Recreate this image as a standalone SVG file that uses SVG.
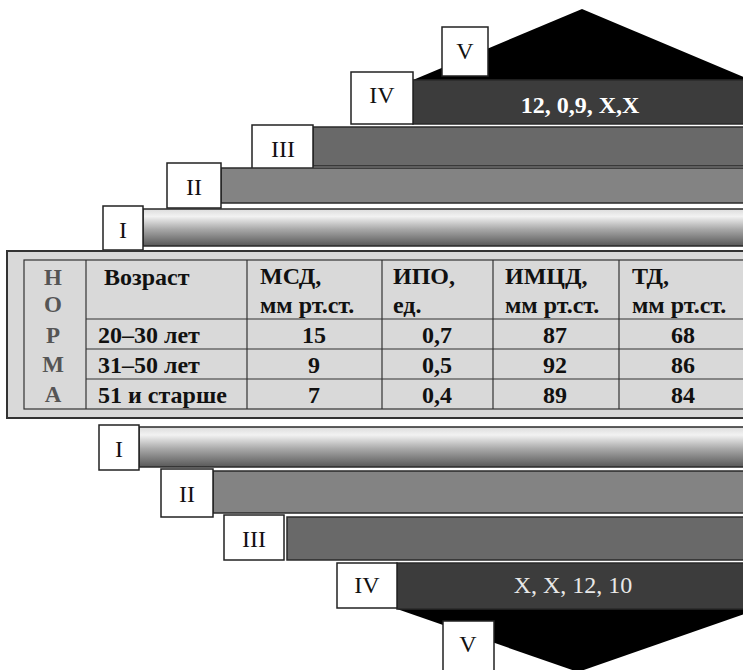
<svg xmlns="http://www.w3.org/2000/svg" width="743" height="670" viewBox="0 0 743 670">
<style>
.bar{stroke:#2a2a2a;stroke-width:1.5}
.box{fill:#fff;stroke:#222;stroke-width:1.5}
.rn{font-family:"Liberation Serif",serif;font-size:24px;fill:#111;text-anchor:middle}
.tb{font-family:"Liberation Serif",serif;font-weight:bold;fill:#111}
.h1{font-size:24px}
.h2{font-size:24px}
.v{font-size:24px;text-anchor:middle}
.nm{font-family:"Liberation Serif",serif;font-weight:bold;font-size:23px;fill:#555;text-anchor:middle}
.grid{stroke:#333;stroke-width:1.2;fill:none}
</style>
<defs>
<linearGradient id="g1" x1="0" y1="0" x2="0" y2="1">
<stop offset="0" stop-color="#dcdcdc"/>
<stop offset="0.2" stop-color="#f2f2f2"/>
<stop offset="0.55" stop-color="#a8a8a8"/>
<stop offset="1" stop-color="#585858"/>
</linearGradient>
</defs>
<rect width="743" height="670" fill="#fff"/>

<g id="top-V">
<polygon points="413,80 582,9 751,80" fill="#000"/>
<rect class="box" x="442" y="27" width="46" height="49"/>
<text class="rn" x="465" y="59">V</text>
</g>
<g id="top-IV">
<rect class="bar" x="413" y="80" width="340" height="44" fill="#3c3c3c"/>
<rect class="box" x="351" y="72" width="62" height="52"/>
<text class="rn" x="382" y="103">IV</text>
<text x="580" y="113" font-family="Liberation Serif,serif" font-weight="bold" font-size="24" fill="#fff" text-anchor="middle">12, 0,9, X,X</text>
</g>
<g id="top-III">
<rect class="bar" x="313" y="127" width="440" height="39" fill="#696969"/>
<rect class="box" x="252" y="125" width="61" height="47"/>
<text class="rn" x="283" y="157">III</text>
</g>
<g id="top-II">
<rect class="bar" x="221" y="168" width="530" height="35" fill="#838383"/>
<rect class="box" x="167" y="163" width="54" height="45"/>
<text class="rn" x="194" y="195">II</text>
</g>
<g id="top-I">
<rect class="bar" x="143" y="209" width="610" height="37" fill="url(#g1)"/>
<rect class="box" x="103" y="206" width="40" height="44"/>
<text class="rn" x="123" y="238">I</text>
</g>

<g id="norma-table">
<rect x="7" y="251" width="750" height="167" fill="#d9d9d9" stroke="#333" stroke-width="2"/>
<rect class="grid" x="24" y="260" width="730" height="149"/>
<line class="grid" x1="86" y1="260" x2="86" y2="409"/>
<line class="grid" x1="247" y1="260" x2="247" y2="409"/>
<line class="grid" x1="382" y1="260" x2="382" y2="409"/>
<line class="grid" x1="493" y1="260" x2="493" y2="409"/>
<line class="grid" x1="619" y1="260" x2="619" y2="409"/>
<line class="grid" x1="86" y1="319" x2="754" y2="319"/>
<line class="grid" x1="86" y1="349" x2="754" y2="349"/>
<line class="grid" x1="86" y1="379" x2="754" y2="379"/>
<text class="nm" x="53" y="285">Н</text>
<text class="nm" x="53" y="312">О</text>
<text class="nm" x="53" y="343">Р</text>
<text class="nm" x="53" y="372">М</text>
<text class="nm" x="53" y="402">А</text>
<text class="tb h1" x="104" y="285">Возраст</text>
<text class="tb h1" x="260" y="284">МСД,</text>
<text class="tb h2" x="260" y="313">мм рт.ст.</text>
<text class="tb h1" x="393" y="284">ИПО,</text>
<text class="tb h2" x="393" y="313">ед.</text>
<text class="tb h1" x="505" y="284">ИМЦД,</text>
<text class="tb h2" x="505" y="313">мм рт.ст.</text>
<text class="tb h1" x="632" y="284">ТД,</text>
<text class="tb h2" x="632" y="313">мм рт.ст.</text>
<text class="tb h1" x="98" y="343">20–30 лет</text>
<text class="tb h1" x="98" y="373">31–50 лет</text>
<text class="tb h1" x="98" y="403">51 и старше</text>
<text class="tb v" x="314" y="343">15</text>
<text class="tb v" x="314" y="373">9</text>
<text class="tb v" x="314" y="403">7</text>
<text class="tb v" x="437" y="343">0,7</text>
<text class="tb v" x="437" y="373">0,5</text>
<text class="tb v" x="437" y="403">0,4</text>
<text class="tb v" x="555" y="343">87</text>
<text class="tb v" x="555" y="373">92</text>
<text class="tb v" x="555" y="403">89</text>
<text class="tb v" x="683" y="343">68</text>
<text class="tb v" x="683" y="373">86</text>
<text class="tb v" x="683" y="403">84</text>
</g>

<g id="bottom-I">
<rect class="bar" x="139" y="427" width="614" height="40" fill="url(#g1)"/>
<rect class="box" x="99" y="425" width="40" height="45"/>
<text class="rn" x="119" y="457">I</text>
</g>
<g id="bottom-II">
<rect class="bar" x="213" y="471" width="540" height="42" fill="#838383"/>
<rect class="box" x="161" y="469" width="52" height="48"/>
<text class="rn" x="187" y="502">II</text>
</g>
<g id="bottom-III">
<rect class="bar" x="287" y="517" width="466" height="43" fill="#696969"/>
<rect class="box" x="224" y="515" width="60" height="45"/>
<text class="rn" x="254" y="547">III</text>
</g>
<g id="bottom-V">
<polygon points="397,609 578,672 759,609" fill="#000"/>
<rect class="box" x="443" y="621" width="51" height="50"/>
<text class="rn" x="468" y="652">V</text>
</g>
<g id="bottom-IV">
<rect class="bar" x="397" y="563" width="356" height="46" fill="#3c3c3c"/>
<rect class="box" x="337" y="563" width="60" height="45"/>
<text class="rn" x="367" y="593">IV</text>
<text x="573" y="593" font-family="Liberation Serif,serif" font-size="24" fill="#e8e8e8" text-anchor="middle">X, X, 12, 10</text>
</g>
<g id="connectors"/>
</svg>
